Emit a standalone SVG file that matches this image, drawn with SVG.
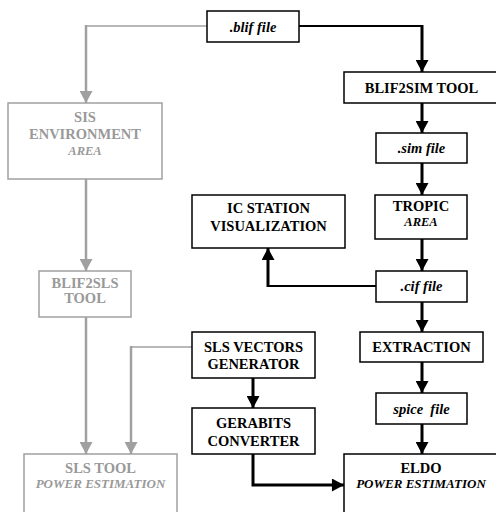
<svg xmlns="http://www.w3.org/2000/svg" width="496" height="512" viewBox="0 0 496 512">
<style>
.bx{fill:#fff;stroke:#000;stroke-width:1.5}
.gb{fill:#fff;stroke:#a0a0a0;stroke-width:1.5}
.t text{font-family:"Liberation Serif","Times New Roman",serif;font-weight:bold;text-anchor:middle;font-size:14.5px;fill:#000}
.t text.g{fill:#999}
.t text.i{font-style:italic}
.t text.s{font-size:12.5px;font-style:italic}
.t text.p{font-size:13px;font-style:italic}
.k{fill:none;stroke:#000;stroke-width:3}
.kh{fill:none;stroke:#000;stroke-width:2}
.gc{fill:none;stroke:#a0a0a0;stroke-width:2.5}
.gh{fill:none;stroke:#a0a0a0;stroke-width:1.5}
</style>
<defs>
<marker id="ab" markerUnits="userSpaceOnUse" markerWidth="14" markerHeight="13" refX="13" refY="7" orient="auto" viewBox="0 0 13 14"><path d="M0,0 L13,7 L0,14 Z" fill="#000"/></marker>
<marker id="ag" markerUnits="userSpaceOnUse" markerWidth="14" markerHeight="13" refX="13" refY="7" orient="auto" viewBox="0 0 13 14"><path d="M0,0 L13,7 L0,14 Z" fill="#a0a0a0"/></marker>
</defs>
<g id="connectors">
<polyline class="gh" points="207,26 86,26"/>
<line class="gc" x1="86" y1="25" x2="86" y2="103" marker-end="url(#ag)"/>
<line class="gc" x1="86" y1="179" x2="86" y2="271" marker-end="url(#ag)"/>
<line class="gc" x1="86" y1="317" x2="86" y2="454" marker-end="url(#ag)"/>
<polyline class="gh" points="192,347 131,347"/>
<line class="gc" x1="131" y1="346" x2="131" y2="454" marker-end="url(#ag)"/>
<polyline class="kh" points="299,26 422,26"/>
<line class="k" x1="422" y1="25" x2="422" y2="72" marker-end="url(#ab)"/>
<line class="k" x1="422" y1="103" x2="422" y2="133" marker-end="url(#ab)"/>
<line class="k" x1="422" y1="163" x2="422" y2="195" marker-end="url(#ab)"/>
<line class="k" x1="422" y1="239" x2="422" y2="271" marker-end="url(#ab)"/>
<line class="k" x1="422" y1="302" x2="422" y2="332" marker-end="url(#ab)"/>
<line class="k" x1="422" y1="362" x2="422" y2="393" marker-end="url(#ab)"/>
<line class="k" x1="422" y1="424" x2="422" y2="454" marker-end="url(#ab)"/>
<polyline class="kh" points="376,286 268,286"/>
<line class="k" x1="268" y1="287" x2="268" y2="248" marker-end="url(#ab)"/>
<line class="k" x1="253" y1="378" x2="253" y2="408" marker-end="url(#ab)"/>
<polyline class="k" points="253,454 253,485 344,485" marker-end="url(#ab)"/>
</g>
<g class="t">
<g id="blif-file"><rect class="bx" x="207" y="11" width="92" height="31"/><text class="i" x="253" y="31.5">.blif file</text></g>
<g id="blif2sim"><rect class="bx" x="344" y="72" width="156" height="31"/><text x="421.5" y="92.5">BLIF2SIM TOOL</text></g>
<g id="sim-file"><rect class="bx" x="376" y="133" width="91" height="30"/><text class="i" x="421.5" y="153">.sim file</text></g>
<g id="tropic"><rect class="bx" x="375" y="195" width="92" height="44"/><text x="421" y="211">TROPIC</text><text class="s" x="421" y="226">AREA</text></g>
<g id="ic-station"><rect class="bx" x="192" y="195" width="153" height="53"/><text x="268.5" y="213">IC STATION</text><text x="268.5" y="231">VISUALIZATION</text></g>
<g id="cif-file"><rect class="bx" x="376" y="271" width="91" height="31"/><text class="i" x="421.5" y="291">.cif file</text></g>
<g id="extraction"><rect class="bx" x="360" y="332" width="123" height="30"/><text x="421.5" y="352">EXTRACTION</text></g>
<g id="spice-file"><rect class="bx" x="376" y="393" width="91" height="31"/><text class="i" x="421.5" y="413.5">spice&#160; file</text></g>
<g id="eldo"><rect class="bx" x="344" y="454" width="160" height="70"/><text x="421" y="473">ELDO</text><text class="p" x="421" y="488">POWER ESTIMATION</text></g>
<g id="sls-vectors"><rect class="bx" x="192" y="332" width="123" height="46"/><text x="253.5" y="352">SLS VECTORS</text><text x="253.5" y="369">GENERATOR</text></g>
<g id="gerabits"><rect class="bx" x="192" y="408" width="123" height="46"/><text x="253.5" y="428">GERABITS</text><text x="253.5" y="446">CONVERTER</text></g>
<g id="sis"><rect class="gb" x="8" y="103" width="154" height="76"/><text class="g" x="85" y="122">SIS</text><text class="g" x="85" y="139">ENVIRONMENT</text><text class="g s" x="85" y="155">AREA</text></g>
<g id="blif2sls"><rect class="gb" x="39" y="271" width="92" height="46"/><text class="g" x="85" y="288">BLIF2SLS</text><text class="g" x="85" y="303">TOOL</text></g>
<g id="sls-tool"><rect class="gb" x="24" y="454" width="153" height="70"/><text class="g" x="100.5" y="473">SLS TOOL</text><text class="g p" x="100.5" y="488">POWER ESTIMATION</text></g>
</g>
</svg>
